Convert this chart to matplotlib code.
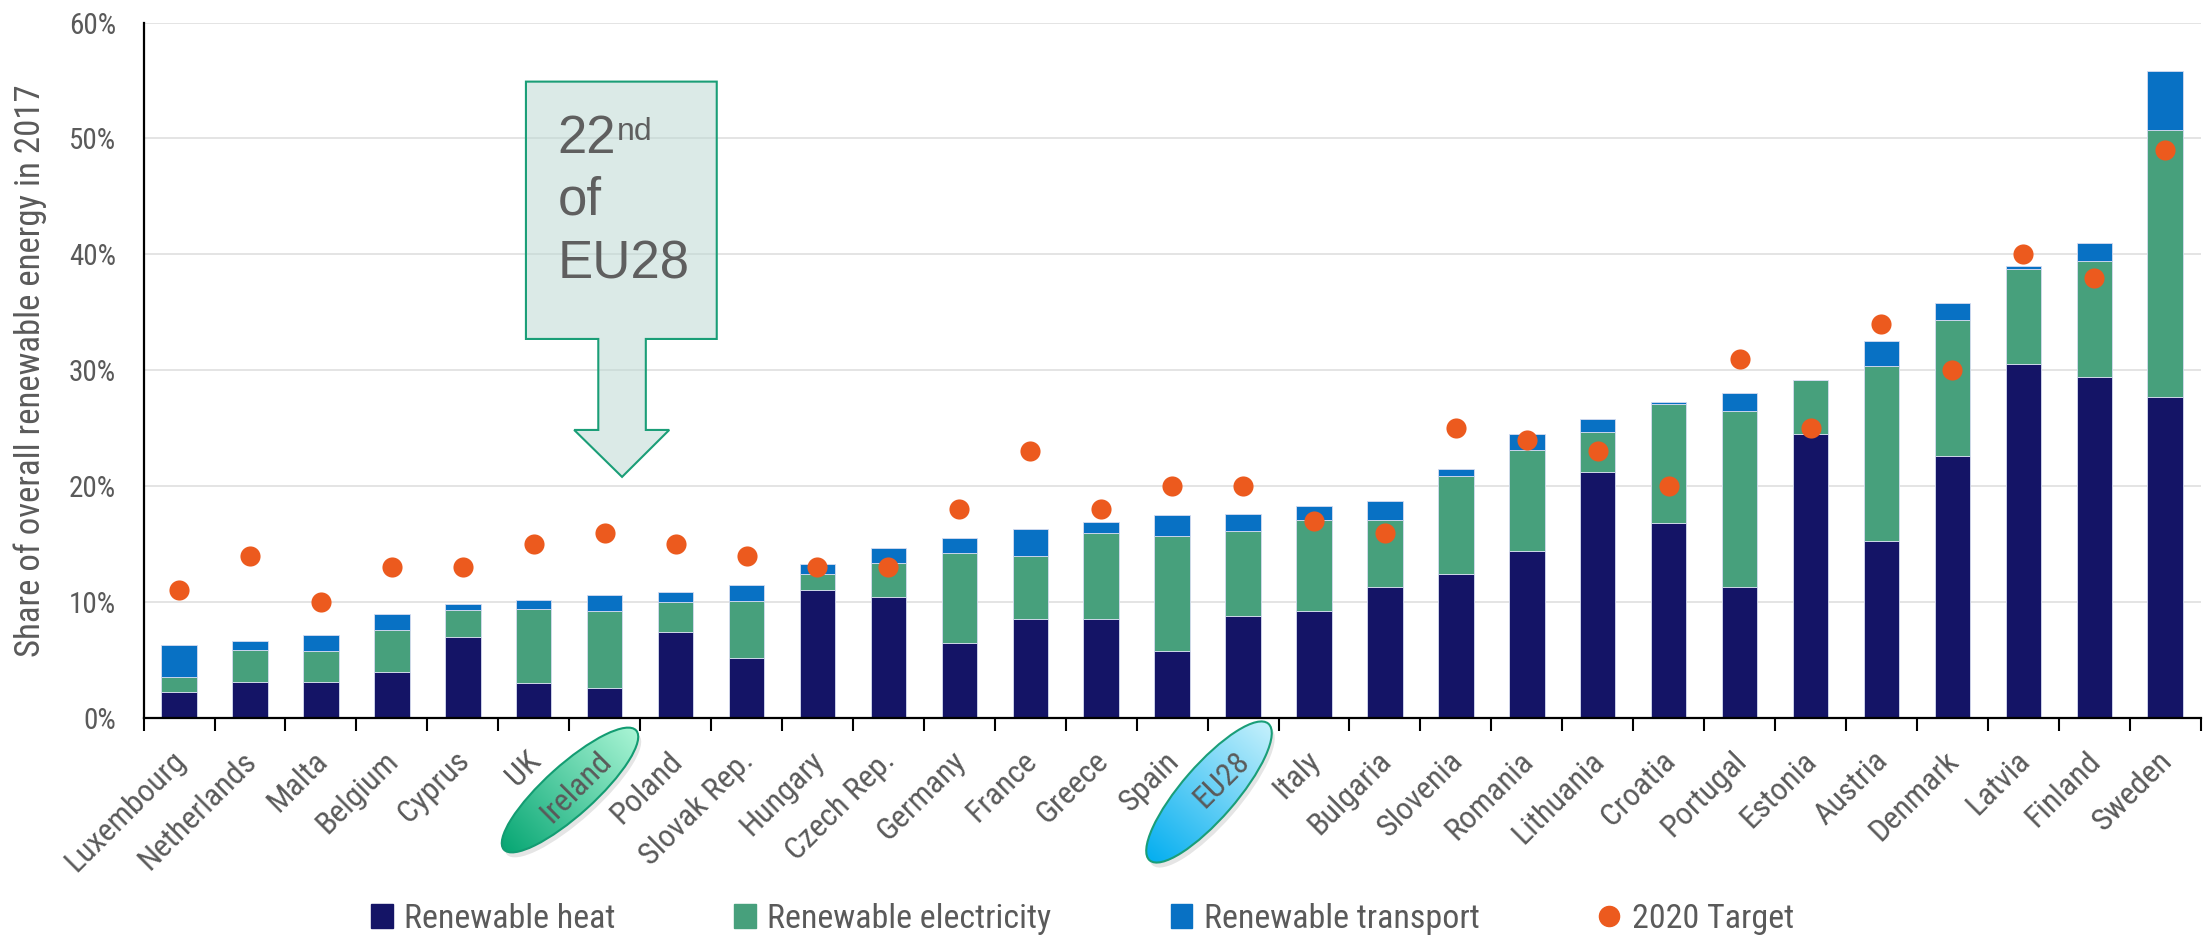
import numpy as np
import matplotlib
matplotlib.use('Agg')
import matplotlib.pyplot as plt
import matplotlib.transforms as mtransforms
from matplotlib import font_manager as fm
from matplotlib.patches import Polygon, Ellipse, Patch
from matplotlib.lines import Line2D

# ── Data ──────────────────────────────────────────────────────────────────────
countries = ['Luxembourg', 'Netherlands', 'Malta', 'Belgium', 'Cyprus', 'UK',
             'Ireland', 'Poland', 'Slovak Rep.', 'Hungary', 'Czech Rep.',
             'Germany', 'France', 'Greece', 'Spain', 'EU28', 'Italy',
             'Bulgaria', 'Slovenia', 'Romania', 'Lithuania', 'Croatia',
             'Portugal', 'Estonia', 'Austria', 'Denmark', 'Latvia', 'Finland',
             'Sweden']
heat = [2.2, 3.1, 3.1, 4.0, 7.0, 3.0, 2.6, 7.4, 5.2, 11.0, 10.4, 6.5, 8.5,
        8.5, 5.8, 8.8, 9.2, 11.3, 12.4, 14.4, 21.2, 16.8, 11.3, 24.5, 15.3,
        22.6, 30.5, 29.4, 27.7]
electricity = [1.3, 2.8, 2.7, 3.6, 2.3, 6.4, 6.6, 2.6, 4.9, 1.4, 3.0, 7.7,
               5.5, 7.5, 9.9, 7.3, 7.9, 5.8, 8.5, 8.7, 3.5, 10.3, 15.2, 4.7,
               15.1, 11.7, 8.2, 10.0, 23.0]
transport = [2.8, 0.7, 1.4, 1.4, 0.5, 0.8, 1.4, 0.9, 1.4, 0.9, 1.3, 1.3, 2.3,
             0.9, 1.8, 1.5, 1.2, 1.6, 0.6, 1.4, 1.1, 0.2, 1.5, 0.0, 2.1, 1.5,
             0.3, 1.6, 5.1]
target_2020 = [11, 14, 10, 13, 13, 15, 16, 15, 14, 13, 13, 18, 23, 18, 20, 20,
               17, 16, 25, 24, 23, 20, 31, 25, 34, 30, 40, 38, 49]
yticks = [0, 10, 20, 30, 40, 50, 60]
# highlighted tick labels: gradient (dark end, light end), edge, ellipse angle
highlights = {'Ireland': ('#08a774', '#a8f4d4', '#139c72', 42),
              'EU28': ('#06aff0', '#c4f0fc', '#1a9e78', 49)}

# ── Style ─────────────────────────────────────────────────────────────────────
C_HEAT, C_ELEC, C_TRANS, C_TGT = '#141466', '#47a07c', '#0871c4', '#ec5a1e'
TXT = '#5a5a5a'
available = {f.name for f in fm.fontManager.ttflist}
LABEL_FONT = 'DejaVu Sans'
for cand in ['Roboto Condensed', 'Liberation Sans Narrow', 'Open Sans Condensed']:
    if cand in available:
        LABEL_FONT = cand
        break

W, H = 2208, 944
fig = plt.figure(figsize=(W / 100, H / 100), dpi=100)
fig.patch.set_facecolor('white')
ax = fig.add_axes([143.6 / W, 1 - 718 / H, (2200.7 - 143.6) / W, (718 - 22.5) / H])
ax.set_zorder(2)
ax.patch.set_alpha(0)

# ── Stacked bars + targets ────────────────────────────────────────────────────
x = np.arange(len(countries))
heat_a, elec_a, trans_a = map(np.array, (heat, electricity, transport))
bar_kw = dict(width=0.5, edgecolor='#d6dcf0', linewidth=0.6, zorder=2)
ax.bar(x, heat_a, color=C_HEAT, **bar_kw)
ax.bar(x, elec_a, bottom=heat_a, color=C_ELEC, **bar_kw)
ax.bar(x, trans_a, bottom=heat_a + elec_a, color=C_TRANS, **bar_kw)
ax.scatter(x, target_2020, s=210, color=C_TGT, zorder=4, linewidths=0)

# ── Axes formatting ───────────────────────────────────────────────────────────
ax.set_xlim(-0.5, len(countries) - 0.5)
ax.set_ylim(0, 60)
ax.set_axisbelow(True)
ax.grid(axis='y', color='#e4e4e4', linewidth=1.4)
ax.spines[['top', 'right']].set_visible(False)
ax.spines[['left', 'bottom']].set_linewidth(1.6)
ax.set_yticks(yticks)
ax.set_yticklabels([f'{v}%' for v in yticks], fontsize=21, color=TXT,
                   family=LABEL_FONT)
ax.tick_params(axis='y', length=0, pad=20)

ax.set_xticks(x)
ax.set_xticklabels(countries, rotation=45, ha='right', va='top',
                   rotation_mode='anchor', fontsize=23, color=TXT,
                   family=LABEL_FONT)
ax.tick_params(axis='x', which='major', length=0, pad=28)
ax.set_xticks(np.arange(-0.5, len(countries)), minor=True)
ax.tick_params(axis='x', which='minor', length=9, width=1.5, direction='out')

ax.set_ylabel('Share of overall renewable energy in 2017', fontsize=25,
              color=TXT, family=LABEL_FONT)
ax.yaxis.set_label_coords(-0.047, 0.5)

# shift all tick labels so that 'Ireland' sits where it does in the original
fig.canvas.draw()
labels = ax.get_xticklabels()
bb = labels[countries.index('Ireland')].get_window_extent()
dx = 576 - (bb.x0 + bb.x1) / 2
dy = (H - 787) - (bb.y0 + bb.y1) / 2
shift = mtransforms.ScaledTranslation(dx / 100, dy / 100, fig.dpi_scale_trans)
for lab in labels:
    lab.set_transform(lab.get_transform() + shift)

# ── Callout arrow: "22nd of EU28" pointing at Ireland ─────────────────────────
irl = countries.index('Ireland')
cx = irl + 0.245
verts = [(cx - 1.355, 54.9), (cx + 1.335, 54.9), (cx + 1.335, 32.7),
         (cx + 0.335, 32.7), (cx + 0.335, 24.85), (cx + 0.665, 24.85),
         (cx, 20.8), (cx - 0.675, 24.85), (cx - 0.335, 24.85),
         (cx - 0.335, 32.7), (cx - 1.355, 32.7)]
ax.add_patch(Polygon(verts, closed=True, facecolor='#b9d7d1', alpha=0.5,
                     edgecolor='none', zorder=5))
ax.add_patch(Polygon(verts, closed=True, facecolor='none',
                     edgecolor='#1a9e77', linewidth=1.5, zorder=6))
t22 = ax.text(cx - 0.905, 48.77, '22', fontsize=38, color='#5f5f5f',
              family='Liberation Sans', va='baseline', ha='left', zorder=7)
ax.annotate('nd', xy=(1.0, 0.93), xycoords=t22, fontsize=23, color='#5f5f5f',
            family='Liberation Sans', va='top', ha='left', zorder=7)
ax.text(cx - 0.905, 43.4, 'of', fontsize=38, color='#5f5f5f',
        family='Liberation Sans', va='baseline', ha='left', zorder=7)
ax.text(cx - 0.905, 37.9, 'EU28', fontsize=38, color='#5f5f5f',
        family='Liberation Sans', va='baseline', ha='left', zorder=7)

# ── Highlight ellipses behind two tick labels (pixel overlay) ────────────────
bg = fig.add_axes([0, 0, 1, 1])
bg.set_zorder(0)
bg.axis('off')


def gradient_ellipse(axis, cx, cy, w, h, angle, c0, c1, edge):
    shadow = Ellipse((cx + 3, cy - 5), w, h, angle=angle, facecolor='black',
                     alpha=0.10, linewidth=0, zorder=1)
    axis.add_patch(shadow)
    ell = Ellipse((cx, cy), w, h, angle=angle, facecolor='none',
                  edgecolor=edge, linewidth=1.5, zorder=3)
    axis.add_patch(ell)
    r = w / 2
    gx, gy = np.meshgrid(np.linspace(cx - r, cx + r, 200),
                         np.linspace(cy - r, cy + r, 200))
    th = np.deg2rad(angle)
    t = np.clip((((gx - cx) * np.cos(th) + (gy - cy) * np.sin(th)) / r + 1) / 2, 0, 1)
    c0 = np.array(matplotlib.colors.to_rgb(c0))
    c1 = np.array(matplotlib.colors.to_rgb(c1))
    rgb = (1 - t)[..., None] * c0 + t[..., None] * c1
    im = axis.imshow(rgb, extent=(cx - r, cx + r, cy - r, cy + r),
                     origin='lower', aspect='auto', zorder=2,
                     interpolation='bilinear')
    im.set_clip_path(ell)


ellipse_pos = {'Ireland': (570, 790, 178, 50), 'EU28': (1209, 792, 181, 54)}
for name, (c0, c1, edge, ang) in highlights.items():
    ex, ey, ew, eh = ellipse_pos[name]
    gradient_ellipse(bg, ex, H - ey, ew, eh, ang, c0, c1, edge)
bg.set_xlim(0, W)
bg.set_ylim(0, H)

# ── Legend ────────────────────────────────────────────────────────────────────
handles = [Patch(color=C_HEAT, label='Renewable heat'),
           Patch(color=C_ELEC, label='Renewable electricity'),
           Patch(color=C_TRANS, label='Renewable transport'),
           Line2D([], [], color=C_TGT, marker='o', linestyle='None',
                  markersize=14.5, label='2020 Target')]
leg = fig.legend(handles=handles, ncol=4, loc='center left',
                 bbox_to_anchor=(371 / W, 1 - 919 / H), frameon=False,
                 prop={'family': LABEL_FONT, 'size': 24.5},
                 handlelength=0.64, handleheight=0.67, handletextpad=0.33,
                 columnspacing=3.5, borderpad=0, borderaxespad=0)
for t in leg.get_texts():
    t.set_color(TXT)

fig.savefig('out.png', dpi=100, facecolor='white')
